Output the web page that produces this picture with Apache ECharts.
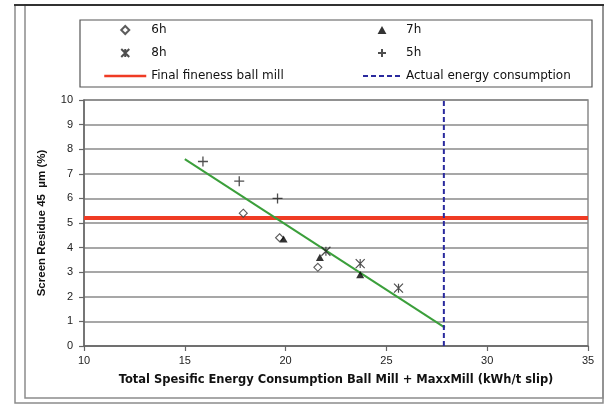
<!DOCTYPE html>
<html>
<head>
<meta charset="utf-8">
<script src="https://cdn.jsdelivr.net/npm/echarts@6/dist/echarts.min.js"></script>
<style>
  html, body { margin: 0; padding: 0; background: #fff; }
  #chart { width: 611px; height: 405px; }
</style>
</head>
<body>
<div id="chart"></div>
<script>
// Grinding runs: [specific energy kWh/t slip, screen residue 45 µm %]
const run5h = [[15.9, 7.5], [17.7, 6.7], [19.6, 6.0]];
const run6h = [[17.9, 5.4], [19.7, 4.4], [21.6, 3.2]];
const run7h = [[19.9, 4.35], [21.7, 3.6], [23.7, 2.9]];
const run8h = [[22.0, 3.85], [23.7, 3.35], [25.6, 2.35]];
const trendLine = [[15.0, 7.6], [27.9, 0.75]];
const finalFineness = 5.2;     // % residue, ball mill target
const actualEnergy = 27.85;    // kWh/t slip
const xRange = [10, 35];
const yRange = [0, 10];

const FONT = '"Liberation Sans", Arial, sans-serif';
const WIDE = '"DejaVu Sans", Verdana, sans-serif';
const GRID = '#8a8a8a';

// marker shapes (paths keep their aspect ratio in the legend too)
const diamondPath = 'path://M5,0L10,5L5,10L0,5Z';
const trianglePath = 'path://M5,0L10,9L0,9Z';
const plusPath = 'path://M5,0L5,10M0,5L10,5';
const starPath = 'path://M0,0L10,10M10,0L0,10M5,0L5,10';

const chart = echarts.init(document.getElementById('chart'), null, { renderer: 'canvas' });

const legendText = { fontSize: 12, color: '#111', fontFamily: WIDE };

chart.setOption({
  animation: false,
  backgroundColor: '#fff',
  textStyle: { fontFamily: FONT },
  graphic: [
    // outer frame
    { type: 'rect', shape: { x: 15, y: 5, width: 588, height: 398 },
      style: { fill: 'none', stroke: '#8c8c8c', lineWidth: 1.5 }, silent: true, z: -10 },
    { type: 'line', shape: { x1: 14, y1: 5, x2: 604, y2: 5 },
      style: { stroke: '#111', lineWidth: 1.5 }, silent: true, z: -9 },
    // inner frame
    { type: 'rect', shape: { x: 25, y: 5, width: 578, height: 393 },
      style: { fill: 'none', stroke: '#8c8c8c', lineWidth: 1.5 }, silent: true, z: -10 },
    // legend box
    { type: 'rect', shape: { x: 80, y: 20, width: 512, height: 67 },
      style: { fill: '#fff', stroke: '#555', lineWidth: 1.2 }, silent: true, z: -5 }
  ],
  legend: [
    {
      left: 103, top: 24, orient: 'vertical', padding: 0,
      itemWidth: 42, itemHeight: 8, itemGap: 11,
      textStyle: legendText,
      data: ['6h', '8h', { name: 'Final fineness ball mill', lineStyle: { width: 2.5 } }]
    },
    {
      left: 362, top: 24, orient: 'vertical', padding: 0,
      itemWidth: 38, itemHeight: 8, itemGap: 11,
      textStyle: legendText,
      data: ['7h', '5h', { name: 'Actual energy consumption', lineStyle: { width: 2 } }]
    }
  ],
  grid: {
    left: 84, right: 23, top: 100, bottom: 59,
    show: true, borderColor: GRID, borderWidth: 1.5, backgroundColor: 'transparent'
  },
  xAxis: {
    type: 'value', min: xRange[0], max: xRange[1], interval: 5,
    name: 'Total Spesific Energy Consumption Ball Mill + MaxxMill (kWh/t slip)',
    nameLocation: 'middle', nameGap: 28,
    nameTextStyle: { fontSize: 11.5, fontWeight: 'bold', color: '#111', fontFamily: WIDE },
    axisLine: { show: true, lineStyle: { color: '#666', width: 1.5 } },
    axisTick: { show: true, inside: false, length: 5, lineStyle: { color: '#666', width: 1.2 } },
    axisLabel: { fontSize: 11, color: '#222', margin: 9 },
    splitLine: { show: false }
  },
  yAxis: {
    type: 'value', min: yRange[0], max: yRange[1], interval: 1,
    name: 'Screen Residue 45  µm (%)',
    nameLocation: 'middle', nameGap: 36, nameRotate: 90,
    nameTextStyle: { fontSize: 11.5, fontWeight: 'bold', color: '#111', fontFamily: FONT },
    axisLine: { show: true, lineStyle: { color: '#666', width: 1.5 } },
    axisTick: { show: true, inside: false, length: 5, lineStyle: { color: '#666', width: 1.2 } },
    axisLabel: { fontSize: 11, color: '#222', margin: 11 },
    splitLine: { show: true, lineStyle: { color: GRID, width: 1.5 } }
  },
  series: [
    {
      name: 'Final fineness ball mill', type: 'line',
      data: [[xRange[0], finalFineness], [xRange[1], finalFineness]],
      symbol: 'circle', showSymbol: false, z: 2,
      lineStyle: { color: '#ef3b24', width: 4 },
      itemStyle: { color: 'rgba(0,0,0,0)' }
    },
    {
      name: 'Trend', type: 'line', data: trendLine, symbol: 'none', z: 3,
      lineStyle: { color: '#3b9f3b', width: 2 }
    },
    {
      name: 'Actual energy consumption', type: 'line',
      data: [[actualEnergy, yRange[0]], [actualEnergy, yRange[1]]],
      symbol: 'circle', showSymbol: false, z: 3,
      lineStyle: { color: '#2a2a9e', width: 2, type: [5, 3] },
      itemStyle: { color: 'rgba(0,0,0,0)' }
    },
    {
      name: '6h', type: 'scatter', data: run6h, symbol: diamondPath, symbolSize: 8,
      symbolKeepAspect: true, z: 5,
      itemStyle: { color: '#fff', borderColor: '#333', borderWidth: 1.1 }
    },
    {
      name: '7h', type: 'scatter', data: run7h, symbol: trianglePath, symbolSize: 8,
      symbolKeepAspect: true, z: 5,
      itemStyle: { color: '#000' }
    },
    {
      name: '8h', type: 'scatter', data: run8h, symbol: starPath, symbolSize: 9,
      symbolKeepAspect: true, z: 5,
      itemStyle: { color: 'transparent', borderColor: '#222', borderWidth: 1.2 }
    },
    {
      name: '5h', type: 'scatter', data: run5h, symbol: plusPath, symbolSize: 10,
      symbolKeepAspect: true, z: 5,
      itemStyle: { color: 'transparent', borderColor: '#222', borderWidth: 1.3 }
    }
  ]
});
</script>
</body>
</html>
